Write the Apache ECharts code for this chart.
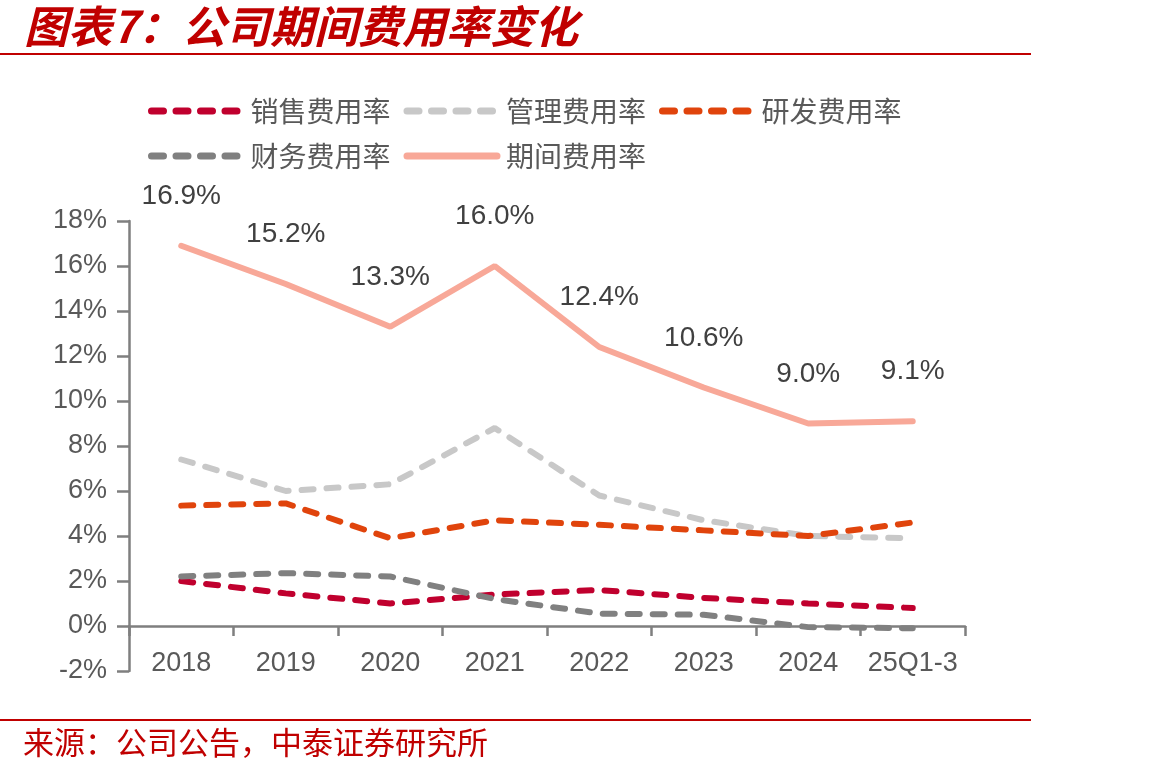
<!doctype html>
<html>
<head>
<meta charset="utf-8">
<title>公司期间费用率变化</title>
<script src="https://cdn.jsdelivr.net/npm/echarts@6/dist/echarts.min.js"></script>
<style>html,body{margin:0;background:#fff}#app{width:1151px;height:773px}</style>
</head>
<body>
<div id="app"></div>
<script>
// 数据：费用率（%）
const categories = ["2018", "2019", "2020", "2021", "2022", "2023", "2024", "25Q1-3"];
const salesRate = [2.0, 1.45, 1.0, 1.4, 1.6, 1.25, 1.0, 0.8]; // 销售费用率
const adminRate = [7.4, 6.0, 6.3, 8.8, 5.8, 4.7, 4.0, 3.9]; // 管理费用率
const rdRate = [5.35, 5.45, 3.9, 4.7, 4.5, 4.25, 4.0, 4.6]; // 研发费用率
const financeRate = [2.2, 2.35, 2.2, 1.2, 0.55, 0.5, -0.05, -0.1]; // 财务费用率
const periodRate = [16.9, 15.2, 13.3, 16.0, 12.4, 10.6, 9.0, 9.1]; // 期间费用率
const yTicks = { min: -2, max: 18, step: 2 }; // 纵轴刻度

const numFont = "'Liberation Sans', Arial, sans-serif";
const cjkFont = "'Noto Sans CJK SC', sans-serif";
const red = "#C00000";
const axisGray = "#7f7f7f";
const textGray = "#595959";

// 虚线系列的公共样式
function dashed(name, data, color) {
  return {
    name: name,
    type: "line",
    data: data,
    symbol: "none",
    z: 2,
    lineStyle: { color: color, width: 6, type: [12, 13], cap: "round" },
    itemStyle: { color: color },
  };
}

// 图例公共样式（两行）
function legendRow(names, top) {
  return {
    data: names.map((n) => (n === "期间费用率" ? { name: n, lineStyle: { type: "solid" } } : n)),
    left: 148, top: top, padding: 0,
    itemWidth: 90, itemHeight: 14, itemGap: 13,
    itemStyle: { opacity: 0 }, // 隐藏图例中的圆点
    lineStyle: { width: 7, type: [12, 12.5], cap: "round" },
    textStyle: { color: textGray, fontSize: 28, fontFamily: cjkFont, padding: [0, 0, 0, 4] },
  };
}

const chart = echarts.init(document.getElementById("app"), null, { renderer: "canvas" });

const option = {
  backgroundColor: "#fff",
  animation: false,
  textStyle: { fontFamily: numFont },
  graphic: [
    // 标题
    {
      type: "text", left: 24, top: 4,
      style: { text: "图表7：公司期间费用率变化", fill: red, font: "italic bold 44px " + cjkFont },
    },
    { type: "rect", shape: { x: 0, y: 53, width: 1031, height: 2 }, style: { fill: red } },
    // 底部来源
    { type: "rect", shape: { x: 0, y: 719, width: 1031, height: 2 }, style: { fill: red } },
    {
      type: "text", left: 23, top: 727,
      style: { text: "来源：公司公告，中泰证券研究所", fill: red, font: "31px " + cjkFont },
    },
  ],
  legend: [
    legendRow(["销售费用率", "管理费用率", "研发费用率"], 97),
    legendRow(["财务费用率", "期间费用率"], 142),
  ],
  grid: { left: 129, right: 186, top: 221, bottom: 102, containLabel: false },
  xAxis: {
    type: "category",
    data: categories,
    boundaryGap: true,
    axisLine: { onZero: true, lineStyle: { color: axisGray, width: 2.5 } },
    axisTick: { show: true, length: 10, alignWithLabel: false, lineStyle: { color: axisGray, width: 2.5 } },
    axisLabel: { color: textGray, fontSize: 27, fontFamily: numFont, margin: -21, interval: 0 },
    splitLine: { show: false },
  },
  yAxis: {
    type: "value",
    min: yTicks.min, max: yTicks.max, interval: yTicks.step,
    axisLine: { show: true, lineStyle: { color: axisGray, width: 2.5 } },
    axisTick: { show: true, length: 12, lineStyle: { color: axisGray, width: 2.5 } },
    axisLabel: { color: textGray, fontSize: 27, fontFamily: numFont, margin: 22, formatter: (v) => v + "%" },
    splitLine: { show: false },
  },
  series: [
    dashed("销售费用率", salesRate, "#C0002E"),
    dashed("管理费用率", adminRate, "#C8C8C8"),
    dashed("研发费用率", rdRate, "#E0440C"),
    dashed("财务费用率", financeRate, "#808080"),
    {
      name: "期间费用率",
      type: "line",
      data: periodRate,
      symbol: "circle",
      symbolSize: 1,
      z: 3,
      lineStyle: { color: "#F8A898", width: 6, cap: "round" },
      itemStyle: { color: "#F8A898" },
      label: {
        show: true, position: "top", distance: 35,
        color: "#404040", fontSize: 28, fontFamily: numFont,
        formatter: (p) => p.value.toFixed(1) + "%",
      },
    },
  ],
};

chart.setOption(option);
</script>
</body>
</html>
